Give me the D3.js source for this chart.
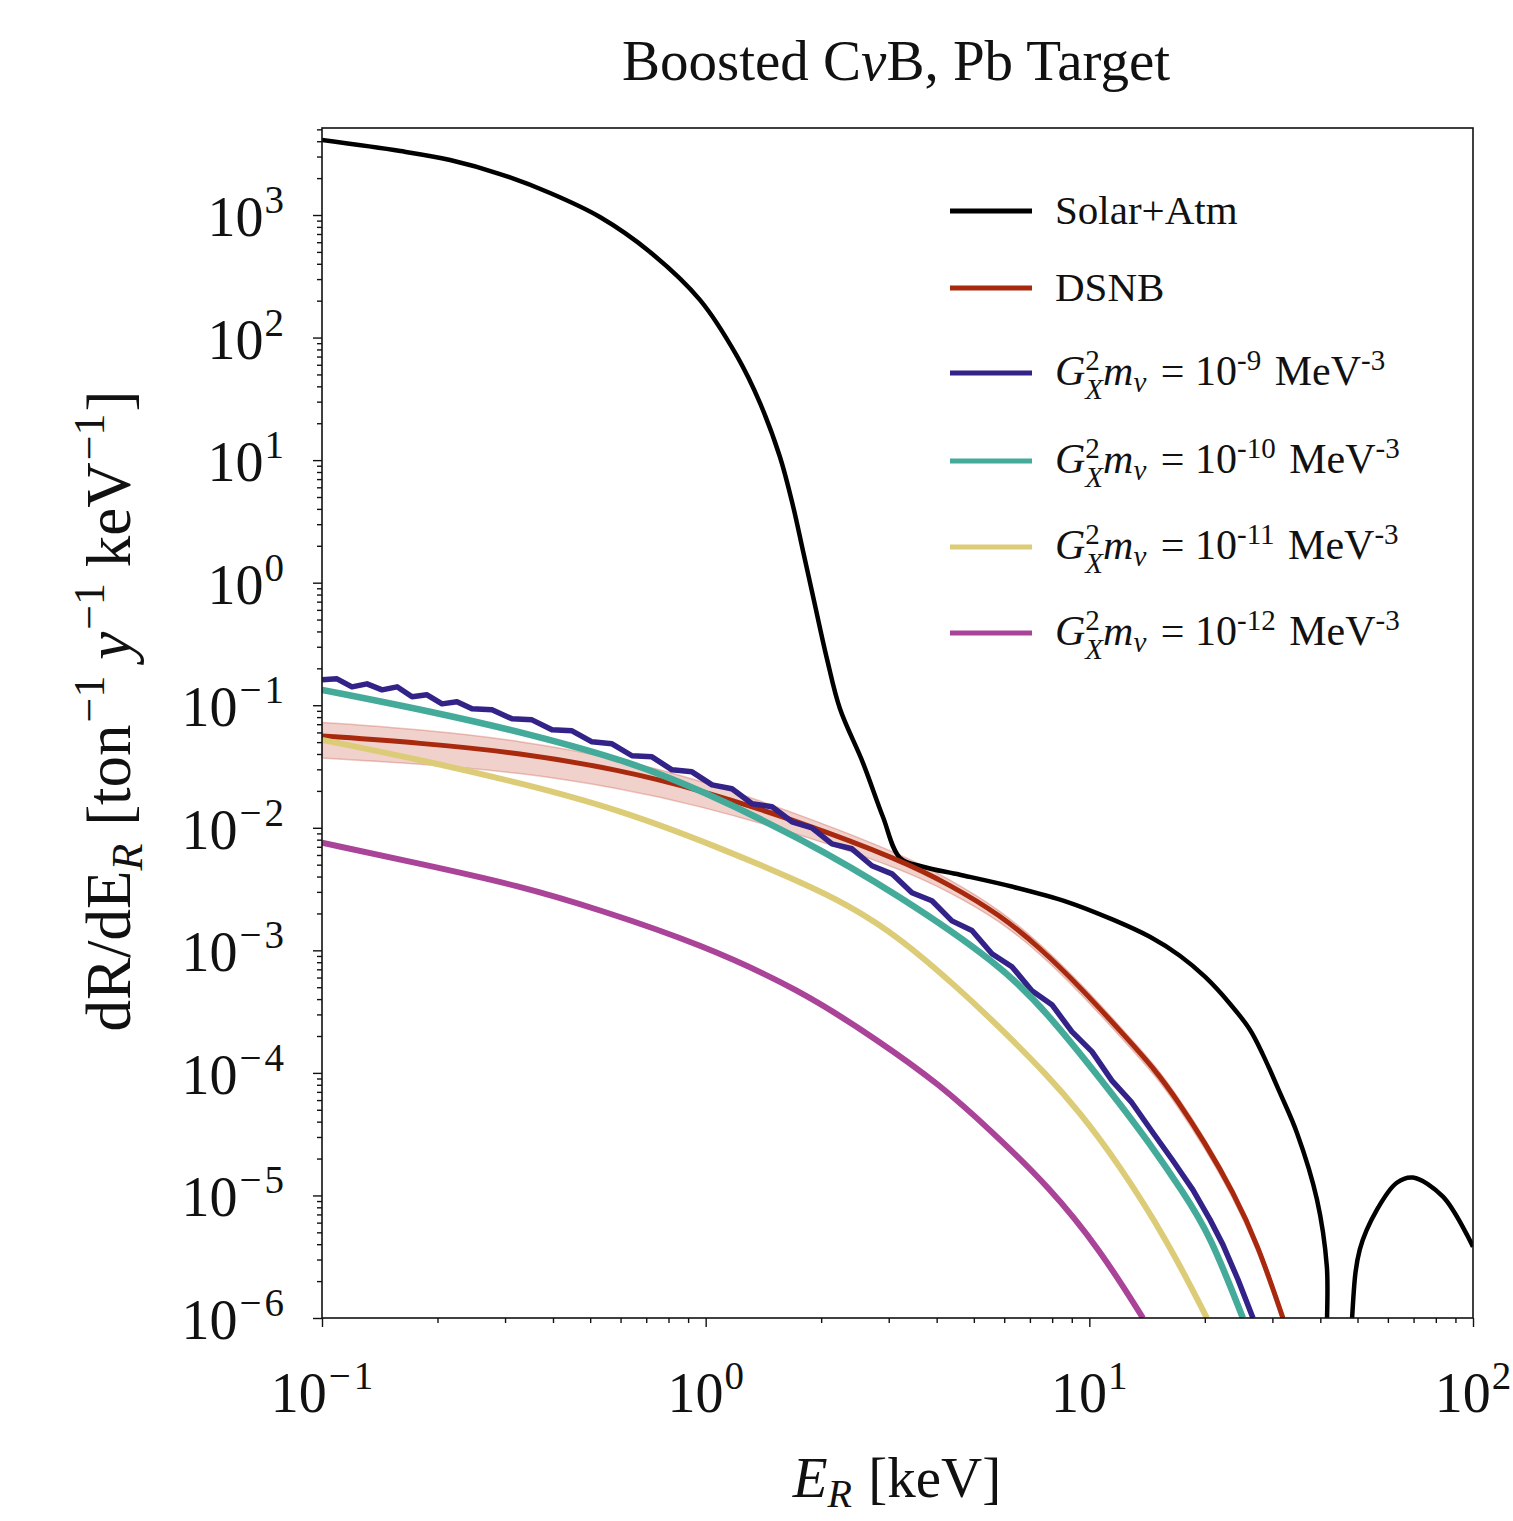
<!DOCTYPE html>
<html>
<head>
<meta charset="utf-8">
<script src="https://cdn.jsdelivr.net/npm/d3@7"></script>
<style>
  body { margin: 0; background: #fff; }
  text { font-family: "Liberation Serif", "Times New Roman", serif; fill: #111; }
</style>
</head>
<body>
<div id="chart-area"></div>
<script>
// ---- data ----
const xMajor = [0.1, 1, 10, 100];
const xMajorExp = ["-1", "0", "1", "2"];
const yMajor = [1e-6, 1e-5, 1e-4, 1e-3, 1e-2, 1e-1, 1, 10, 100, 1000];
const yMajorExp = ["-6", "-5", "-4", "-3", "-2", "-1", "0", "1", "2", "3"];

// Solar + atmospheric background
const solarE = [0.1, 0.16, 0.2157, 0.291, 0.393, 0.53, 0.716, 0.966, 1.206, 1.385, 1.562, 1.689, 1.793, 1.904,
  2.071, 2.239, 2.57, 2.897, 3.209, 3.684, 4.6, 6.32, 8.74, 11.52, 14.38, 17.22, 20.01, 23.25, 26.22, 28.34,
  31.38, 34.75, 39.2, 41.6, 42.4, 47.6, 48.4, 50.7, 56.2, 63.3, 69.7, 83.5, 100];
const solarR = [4090, 3327, 2810, 2160, 1511, 963, 499, 203, 70.8, 29.3, 10.6, 4.23, 1.82, 0.78,
  0.239, 0.0935, 0.0339, 0.0123, 5.69e-3, 4.81e-3, 4.14e-3, 3.30e-3, 2.49e-3, 1.78e-3, 1.29e-3, 9.04e-4, 6.09e-4, 3.67e-4, 2.25e-4, 1.41e-4,
  6.89e-5, 3.25e-5, 9.25e-6, 2.62e-6, 1e-8, 1e-8, 1e-6, 3.63e-6, 7.66e-6, 1.27e-5, 1.40e-5, 9.77e-6, 3.82e-6];

// DSNB with uncertainty band
const dsnbE = [0.1, 0.18, 0.328, 0.598, 0.966, 1.761, 3.209, 4.33, 5.848, 7.43, 9.45, 12.76, 14.83, 16.92, 20.01, 23.7, 27.5, 31.96];
const dsnbR = [0.0562, 0.0493, 0.0409, 0.0297, 0.0204, 0.01117, 5.48e-3, 3.43e-3, 1.95e-3, 1.05e-3, 5.05e-4, 1.80e-4, 1.06e-4, 6.05e-5, 2.70e-5, 1.07e-5, 3.97e-6, 1.0e-6];
const dsnbUpper = [0.0724, 0.0635, 0.0515, 0.0365, 0.0245, 0.01282, 6.15e-3, 3.80e-3, 2.14e-3, 1.14e-3, 5.47e-4, 1.95e-4, 1.15e-4, 6.56e-5, 2.93e-5, 1.16e-5, 4.30e-6, 1.08e-6];
const dsnbLower = [0.0371, 0.0333, 0.0283, 0.0210, 0.0151, 8.87e-3, 4.66e-3, 2.99e-3, 1.74e-3, 9.47e-4, 4.55e-4, 1.62e-4, 9.56e-5, 5.46e-5, 2.43e-5, 9.65e-6, 3.58e-6, 9.0e-7];

// G_X^2 m_nu = 1e-9 MeV^-3 (noisy Monte Carlo curve)
const g9E = [0.1, 0.1094, 0.1197, 0.131, 0.1434, 0.1569, 0.1717, 0.1878, 0.2055, 0.2248, 0.246, 0.2774, 0.3128,
  0.3526, 0.3976, 0.4483, 0.5055, 0.57, 0.6427, 0.7244, 0.817, 0.9211, 1.039, 1.171, 1.321, 1.489, 1.679, 1.892,
  2.134, 2.406, 2.713, 3.059, 3.449, 3.888, 4.384, 4.943, 5.574, 6.284, 7.085, 7.988, 9.006, 10.16, 11.45, 12.91,
  14.65, 16.52, 18.62, 20.63, 22.29, 24.4, 26.7];
const g9R = [0.1612, 0.1642, 0.1413, 0.1495, 0.1335, 0.1413, 0.1171, 0.1216, 0.1026, 0.1066, 0.0935, 0.0917, 0.0774,
  0.076, 0.063, 0.0618, 0.0503, 0.0484, 0.0387, 0.0379, 0.0297, 0.0286, 0.0224, 0.0208, 0.0157, 0.01484, 0.01119, 0.01,
  7.40e-3, 6.74e-3, 4.90e-3, 4.21e-3, 2.95e-3, 2.54e-3, 1.74e-3, 1.45e-3, 9.38e-4, 7.35e-4, 4.68e-4, 3.60e-4, 2.17e-4, 1.49e-4, 8.64e-5, 5.71e-5,
  3.25e-5, 1.92e-5, 1.11e-5, 6.35e-6, 3.97e-6, 2.06e-6, 1.0e-6];

// G_X^2 m_nu = 1e-10 MeV^-3
const g10E = [0.1, 0.1947, 0.3548, 0.646, 0.966, 1.761, 3.209, 5.848, 7.752, 11.8, 14.13, 17.54, 20.63, 25.13];
const g10R = [0.1335, 0.0884, 0.0574, 0.0339, 0.0204, 8.29e-3, 2.79e-3, 7.64e-4, 3.15e-4, 6.05e-5, 2.85e-5, 1.07e-5, 4.79e-6, 1.0e-6];

// G_X^2 m_nu = 1e-11 MeV^-3
const g11E = [0.1, 0.18, 0.328, 0.598, 1.09, 1.761, 2.377, 3.209, 4.6, 5.848, 7.752, 9.45, 11.8, 15.93, 20.25];
const g11R = [0.0522, 0.0359, 0.0233, 0.01402, 6.87e-3, 3.63e-3, 2.31e-3, 1.267e-3, 4.77e-4, 2.34e-4, 9.67e-5, 4.74e-5, 1.89e-5, 4.36e-6, 1.0e-6];

// G_X^2 m_nu = 1e-12 MeV^-3
const g12E = [0.1, 0.18, 0.328, 0.53, 0.966, 1.761, 2.847, 4.08, 5.508, 7.89, 10.66, 13.8];
const g12R = [7.55e-3, 5.09e-3, 3.36e-3, 2.14e-3, 1.13e-3, 4.77e-4, 1.80e-4, 8.01e-5, 3.44e-5, 1.16e-5, 3.61e-6, 1.0e-6];

const seriesColors = ["#000000", "#a8290d", "#332288", "#44aa99", "#ddcc77", "#aa4499"];
const legendExp = [null, null, "-9", "-10", "-11", "-12"];

// ---- layout ----
const W = 1513, H = 1521;
const plot = {left: 322, right: 1473, top: 128, bottom: 1318};

const svg = d3.select("#chart-area").append("svg")
    .attr("width", W)
    .attr("height", H);

const x = d3.scaleLog().domain([0.1, 100]).range([plot.left, plot.right]);
const y = d3.scaleLog().domain([1e-6, Math.pow(10, 3.71)]).range([plot.bottom, plot.top]);

svg.append("defs").append("clipPath").attr("id", "plot-clip")
  .append("rect")
    .attr("x", plot.left).attr("y", plot.top)
    .attr("width", plot.right - plot.left).attr("height", plot.bottom - plot.top);

// helper: write mixed text (italic / sub / superscripts) with tspans
function rich(sel, parts, base) {
    let shift = 0;
    parts.forEach(p => {
        const ts = sel.append("tspan").text(p.t);
        const s = p.dy || 0;
        if (s - shift !== 0) ts.attr("dy", s - shift);
        shift = s;
        if (p.dx) ts.attr("dx", p.dx);
        if (p.it) ts.attr("font-style", "italic");
        ts.attr("font-size", p.size || base);
    });
}

// power-of-ten label: "10" with raised exponent, minus drawn a little wider
function powerLabel(sel, exp) {
    const parts = [{t: "10"}];
    if (exp[0] === "-") {
        parts.push({t: "\u2212", size: 39, dy: -23, dx: 2});
        parts.push({t: exp.slice(1), size: 39, dy: -23, dx: 3});
    } else {
        parts.push({t: exp, size: 39, dy: -23, dx: 1});
    }
    rich(sel, parts, 56);
}

// ---- minor ticks ----
const xMinor = [];
[0.1, 1, 10].forEach(d => { for (let k = 2; k <= 9; k++) xMinor.push(d * k); });
const yMinor = [];
[1e-6, 1e-5, 1e-4, 1e-3, 1e-2, 1e-1, 1, 10, 100, 1000].forEach(d => {
    for (let k = 2; k <= 9; k++) if (d * k <= y.domain()[1]) yMinor.push(d * k);
});

const axes = svg.append("g").attr("class", "axes");

axes.append("g")
    .attr("transform", `translate(0, ${plot.bottom})`)
    .call(d3.axisBottom(x).tickValues(xMinor).tickSize(5).tickFormat(""))
    .call(g => g.select(".domain").remove());
axes.append("g")
    .attr("transform", `translate(0, ${plot.bottom})`)
    .call(d3.axisBottom(x).tickValues(xMajor).tickSize(9).tickFormat(""))
    .call(g => g.select(".domain").remove());
axes.append("g")
    .attr("transform", `translate(${plot.left}, 0)`)
    .call(d3.axisLeft(y).tickValues(yMinor).tickSize(5).tickFormat(""))
    .call(g => g.select(".domain").remove());
axes.append("g")
    .attr("transform", `translate(${plot.left}, 0)`)
    .call(d3.axisLeft(y).tickValues(yMajor).tickSize(9).tickFormat(""))
    .call(g => g.select(".domain").remove());
axes.selectAll(".tick line").attr("stroke", "#111").attr("stroke-width", 1.4);

// tick labels
xMajor.forEach((v, i) => {
    const t = svg.append("text")
        .attr("x", x(v))
        .attr("y", 1412)
        .attr("text-anchor", "middle");
    powerLabel(t, xMajorExp[i]);
});
yMajor.forEach((v, i) => {
    const t = svg.append("text")
        .attr("x", 284)
        .attr("y", y(v) + 21)
        .attr("text-anchor", "end");
    powerLabel(t, yMajorExp[i]);
});

// ---- curves ----
const lines = svg.append("g").attr("clip-path", "url(#plot-clip)");

const smoothLine = d3.line()
    .x(d => x(d[0]))
    .y(d => y(d[1]))
    .curve(d3.curveBasis);

const throughLine = d3.line()
    .x(d => x(d[0]))
    .y(d => y(d[1]))
    .curve(d3.curveCatmullRom.alpha(0.5));

const jaggedLine = d3.line()
    .x(d => x(d[0]))
    .y(d => y(d[1]));

const band = d3.area()
    .x(d => x(d.e))
    .y0(d => y(d.lo))
    .y1(d => y(d.hi))
    .curve(d3.curveBasis);

const bandData = dsnbE.map((e, i) => ({e: e, lo: dsnbLower[i], hi: dsnbUpper[i]}));
lines.append("path")
    .attr("d", band(bandData))
    .attr("fill", "#cc5a48")
    .attr("fill-opacity", 0.28)
    .attr("stroke", "#cc5a48")
    .attr("stroke-opacity", 0.35)
    .attr("stroke-width", 1.5);

const series = [
    {e: solarE, r: solarR, w: 4.5, gen: throughLine},
    {e: dsnbE, r: dsnbR, w: 5, gen: smoothLine},
    {e: g9E, r: g9R, w: 5.5, gen: jaggedLine},
    {e: g10E, r: g10R, w: 6.5, gen: smoothLine},
    {e: g11E, r: g11R, w: 6, gen: smoothLine},
    {e: g12E, r: g12R, w: 6, gen: smoothLine}
];

series.forEach((s, i) => {
    lines.append("path")
        .attr("d", s.gen(s.e.map((e, j) => [e, s.r[j]])))
        .attr("fill", "none")
        .attr("stroke", seriesColors[i])
        .attr("stroke-width", s.w)
        .attr("stroke-linejoin", "round");
});

// frame
svg.append("rect")
    .attr("x", plot.left).attr("y", plot.top)
    .attr("width", plot.right - plot.left).attr("height", plot.bottom - plot.top)
    .attr("fill", "none")
    .attr("stroke", "#111")
    .attr("stroke-width", 1.6);

// ---- legend ----
const legendY = [211, 288, 373, 461, 547, 633];
const legend = svg.append("g");
legendY.forEach((ly, i) => {
    legend.append("line")
        .attr("x1", 950).attr("x2", 1032)
        .attr("y1", ly).attr("y2", ly)
        .attr("stroke", seriesColors[i])
        .attr("stroke-width", 5);
    const t = legend.append("text").attr("x", 1055);
    if (i === 0) {
        t.attr("y", ly + 13).attr("font-size", 41).text("Solar+Atm");
    } else if (i === 1) {
        t.attr("y", ly + 13).attr("font-size", 41).text("DSNB");
    } else {
        t.attr("y", ly + 12);
        rich(t, [
            {t: "G", it: true},
            {t: "2", size: 29, dy: -15},
            {t: "X", it: true, size: 29, dy: 14, dx: -14.5},
            {t: "m", it: true},
            {t: "\u03bd", it: true, size: 29, dy: 7},
            {t: " = 10", dx: 4},
            {t: legendExp[i], size: 29, dy: -15},
            {t: " MeV", dx: 3},
            {t: "-3", size: 29, dy: -15}
        ], 42);
    }
});

// ---- titles ----
const title = svg.append("text")
    .attr("x", 896).attr("y", 80)
    .attr("text-anchor", "middle");
rich(title, [{t: "Boosted C"}, {t: "\u03bd", it: true}, {t: "B, Pb Target"}], 57);

const xLabel = svg.append("text")
    .attr("x", 897).attr("y", 1497)
    .attr("text-anchor", "middle");
rich(xLabel, [{t: "E", it: true}, {t: "R", it: true, size: 40, dy: 10}, {t: " [keV]", dx: 2}], 57);

const yLabel = svg.append("text")
    .attr("transform", "translate(130, 711) rotate(-90)")
    .attr("text-anchor", "middle");
rich(yLabel, [
    {t: "dR/dE"},
    {t: "R", it: true, size: 44, dy: 12},
    {t: " [ton", dx: 2},
    {t: "\u22121", size: 44, dy: -26, dx: 2},
    {t: " "},
    {t: "y", it: true},
    {t: "\u22121", size: 44, dy: -26, dx: 2},
    {t: " keV"},
    {t: "\u22121", size: 44, dy: -26, dx: 2},
    {t: "]", dx: 2}
], 63);
</script>
</body>
</html>
